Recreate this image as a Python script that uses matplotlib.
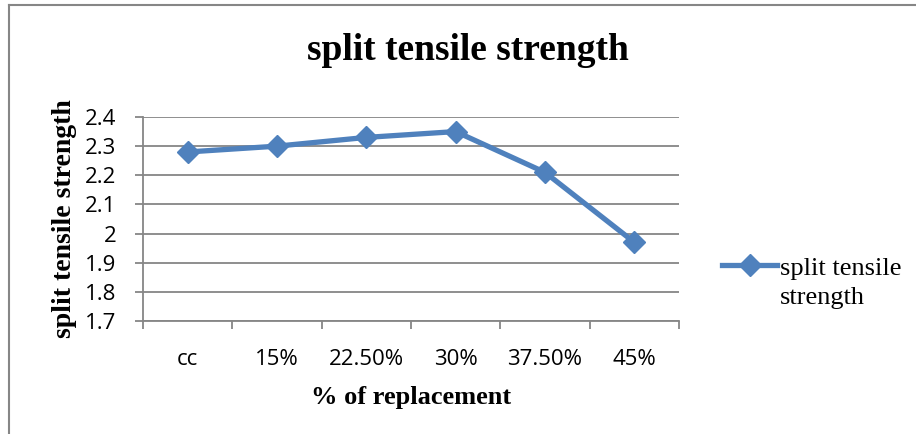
import numpy as np
import matplotlib
matplotlib.use('Agg')
import matplotlib.pyplot as plt
from matplotlib.lines import Line2D

# data
categories = ['cc', '15%', '22.50%', '30%', '37.50%', '45%']
strength = [2.28, 2.30, 2.33, 2.35, 2.21, 1.97]
y_ticks = [1.7, 1.8, 1.9, 2.0, 2.1, 2.2, 2.3, 2.4]
y_tick_labels = ['1.7', '1.8', '1.9', '2', '2.1', '2.2', '2.3', '2.4']

blue = '#4F81BD'
grid_grey = '#868686'
serif = 'Liberation Serif'
sans = 'Open Sans'

W, H = 916, 434
fig = plt.figure(figsize=(W / 100, H / 100), dpi=100)

# chart border (top and left edges visible)
fig.add_artist(Line2D([9 / W, 9 / W], [0, 1 - 5 / H], transform=fig.transFigure,
                      color=grid_grey, lw=1.5))
fig.add_artist(Line2D([9 / W, 1], [1 - 5 / H, 1 - 5 / H], transform=fig.transFigure,
                      color=grid_grey, lw=1.5))

ax = fig.add_axes([143 / W, 1 - 321 / H, (679 - 143) / W, (321 - 117) / H])

x = np.arange(len(categories))
ax.plot(x, strength, color=blue, lw=3.8, marker='D', markersize=11,
        markerfacecolor=blue, markeredgecolor=blue, label='split tensile',
        zorder=3)

ax.set_xlim(-0.5, len(categories) - 0.5)
ax.set_ylim(1.7, 2.4)

ax.set_yticks(y_ticks)
ax.set_yticklabels(y_tick_labels, fontfamily=sans, fontsize=16)
ax.grid(axis='y', color=grid_grey, lw=1.3)
ax.set_axisbelow(True)

# boundary ticks (major) and centred labels (minor)
ax.set_xticks(np.arange(-0.5, len(categories), 1.0))
ax.set_xticklabels([])
ax.set_xticks(x, minor=True)
ax.set_xticklabels(categories, minor=True, fontfamily=sans, fontsize=16)
ax.tick_params(axis='x', which='major', length=6, color=grid_grey, width=1.3)
ax.tick_params(axis='x', which='minor', length=0, pad=20)
ax.tick_params(axis='y', length=6, color=grid_grey, width=1.3, pad=13)

for s in ['top', 'right']:
    ax.spines[s].set_visible(False)
for s in ['left', 'bottom']:
    ax.spines[s].set_color(grid_grey)
    ax.spines[s].set_linewidth(1.3)

ax.set_xlabel('% of replacement', fontfamily=serif, fontweight='bold', fontsize=19,
              labelpad=12)
ax.set_ylabel('split tensile strength', fontfamily=serif, fontweight='bold', fontsize=20,
              labelpad=6)

fig.text(468 / W, 1 - 50 / H, 'split tensile strength', fontfamily=serif,
         fontweight='bold', fontsize=27, ha='center', va='center')

leg = ax.legend(loc='center left', bbox_to_anchor=(1.08, 0.26), frameon=False,
                prop={'family': serif, 'size': 19}, handlelength=2.1,
                handletextpad=0.1, borderaxespad=0, borderpad=0)
# second line of the legend entry
fig.text(780 / W, 1 - 298 / H, 'strength', fontfamily=serif, fontsize=19,
         ha='left', va='center')

fig.savefig('out.png', dpi=100)
